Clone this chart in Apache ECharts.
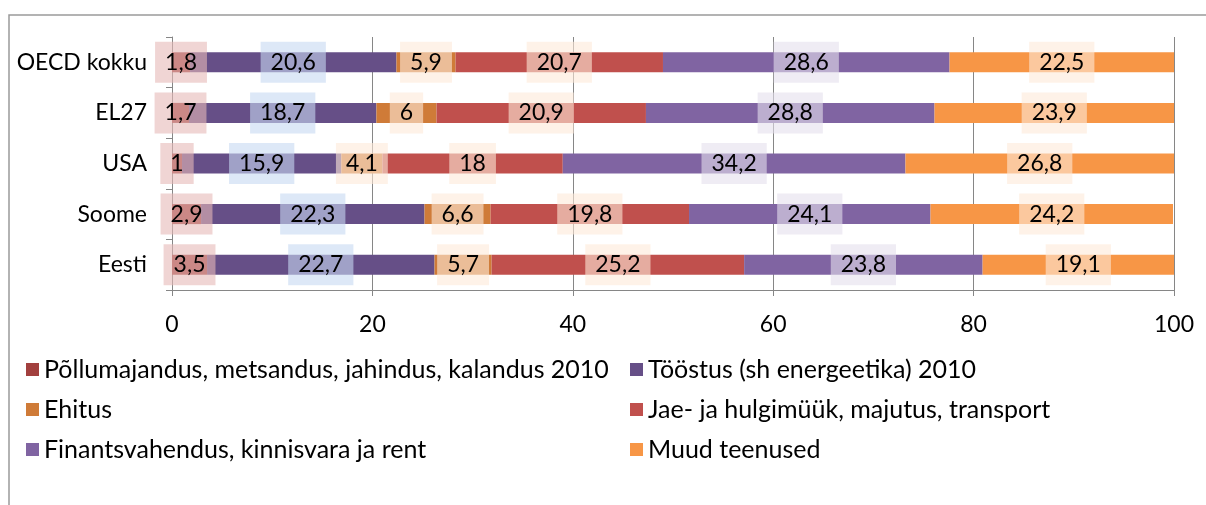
<!DOCTYPE html>
<html>
<head>
<meta charset="utf-8">
<script src="https://cdn.jsdelivr.net/npm/echarts@6/dist/echarts.min.js"></script>
<style>
  html, body { margin: 0; padding: 0; background: #fff; }
  #main { width: 1206px; height: 505px; }
</style>
</head>
<body>
<div id="main"></div>
<script>
var countries = ['Eesti', 'Soome', 'USA', 'EL27', 'OECD kokku'];
var seriesNames = [
    'Põllumajandus, metsandus, jahindus, kalandus 2010',
    'Tööstus (sh energeetika) 2010',
    'Ehitus',
    'Jae- ja hulgimüük, majutus, transport',
    'Finantsvahendus, kinnisvara ja rent',
    'Muud teenused'
];
var pollumajandus = [3.5, 2.9, 1, 1.7, 1.8];
var toostus = [22.7, 22.3, 15.9, 18.7, 20.6];
var ehitus = [5.7, 6.6, 4.1, 6, 5.9];
var kaubandus = [25.2, 19.8, 18, 20.9, 20.7];
var finants = [23.8, 24.1, 34.2, 28.8, 28.6];
var muud = [19.1, 24.2, 26.8, 23.9, 22.5];
var xTicks = [0, 20, 40, 60, 80, 100];

var values = [pollumajandus, toostus, ehitus, kaubandus, finants, muud];
var colors = ['#a2403e', '#664f87', '#cf7b38', '#c0504d', '#8064a2', '#f79646'];
var labelBg = [
    'rgba(230,185,184,0.6)',
    'rgba(198,217,241,0.6)',
    'rgba(253,233,217,0.6)',
    'rgba(253,233,217,0.6)',
    'rgba(229,224,236,0.6)',
    'rgba(253,233,217,0.6)'
];
var font = 'Lato';

var chart = echarts.init(document.getElementById('main'));

var series = [];
for (let i = 0; i < values.length; i++) {
    series.push({
        name: seriesNames[i],
        type: 'bar',
        stack: 'total',
        barWidth: 20,
        data: values[i],
        itemStyle: { color: colors[i] },
        label: {
            show: true,
            position: 'inside',
            color: '#000',
            fontFamily: font,
            fontSize: 23,
            backgroundColor: labelBg[i],
            padding: [9, 10, 9, 10],
            formatter: function (p) {
                return String(p.value).replace('.', ',');
            }
        }
    });
}

var legendText = { color: '#000', fontFamily: font, fontSize: 25 };

chart.setOption({
    animation: false,
    grid: { left: 172, right: 32, top: 37, bottom: 215 },
    legend: [{
        data: [seriesNames[0], seriesNames[2], seriesNames[4]],
        orient: 'vertical',
        left: 21,
        top: 352,
        itemWidth: 13,
        itemHeight: 13,
        itemGap: 15,
        icon: 'rect',
        textStyle: legendText
    }, {
        data: [seriesNames[1], seriesNames[3], seriesNames[5]],
        orient: 'vertical',
        left: 625,
        top: 352,
        itemWidth: 13,
        itemHeight: 13,
        itemGap: 15,
        icon: 'rect',
        textStyle: legendText
    }],
    xAxis: {
        type: 'value',
        min: xTicks[0],
        max: xTicks[xTicks.length - 1],
        interval: 20,
        axisLine: { show: true, lineStyle: { color: '#868686' } },
        axisTick: { show: true, length: 6, lineStyle: { color: '#868686' } },
        splitLine: { show: true, lineStyle: { color: '#868686', width: 1 } },
        axisLabel: { color: '#000', fontFamily: font, fontSize: 23, margin: 23 }
    },
    yAxis: {
        type: 'category',
        data: countries,
        axisLine: { show: true, lineStyle: { color: '#868686' } },
        axisTick: { show: true, length: 6, lineStyle: { color: '#868686' } },
        axisLabel: { color: '#000', fontFamily: font, fontSize: 23, margin: 25 }
    },
    graphic: [{
        type: 'polyline',
        shape: { points: [[9, 505], [9, 15], [1206, 15]] },
        style: { stroke: '#9a9a9a', lineWidth: 1.5, fill: null }
    }],
    series: series
});
</script>
</body>
</html>
